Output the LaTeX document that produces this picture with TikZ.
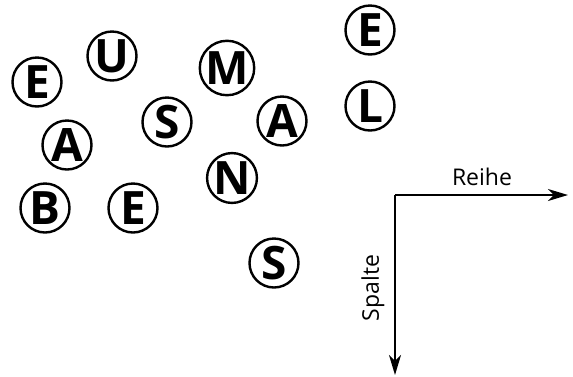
\documentclass[tikz,border=0pt]{standalone}
\usepackage{fontspec}
\setmainfont{Open Sans}
\usetikzlibrary{arrows.meta, positioning}

\begin{document}
\begin{tikzpicture}[x=1pt, y=-1pt,
  letter/.style={circle, draw, line width=2.4pt, minimum size=49pt,
                 inner sep=0pt, text height=33pt, text depth=0pt,
                 font=\fontsize{46}{46}\selectfont\bfseries},
  axis/.style={-{Stealth[length=20pt, width=12pt, inset=6pt]}, line width=1.6pt},
  axlabel/.style={font=\fontsize{23}{23}\selectfont, inner sep=0pt}
]
\useasboundingbox (0,0) rectangle (573,376);

% Letters
\node[letter] (E1) at (37,82)  {E};
\node[letter] (U)  at (112,56) {U};
\node[letter] (M)  at (227,68) {M};
\node[letter] (E2) at (370,30) {E};
\node[letter] (A1) at (67,145) {A};
\node[letter] (S1) at (167,122) {S};
\node[letter] (A2) at (282,121) {A};
\node[letter] (L)  at (370,106) {L};
\node[letter] (B)  at (45,208) {B};
\node[letter] (E3) at (133,208) {E};
\node[letter] (N)  at (232,178) {N};
\node[letter] (S2) at (274,263) {S};

% Axes
\coordinate (O) at (395,195);
\coordinate (Rx) at (568,195);
\coordinate (Sy) at (395,375);
\draw[axis] (O) -- (Rx);
\draw[axis] (O) -- (Sy);
\node[axlabel] (reihe) at (482,177) {Reihe};
\node[axlabel, rotate=90] (spalte) at (373,288) {Spalte};
\end{tikzpicture}
\end{document}
